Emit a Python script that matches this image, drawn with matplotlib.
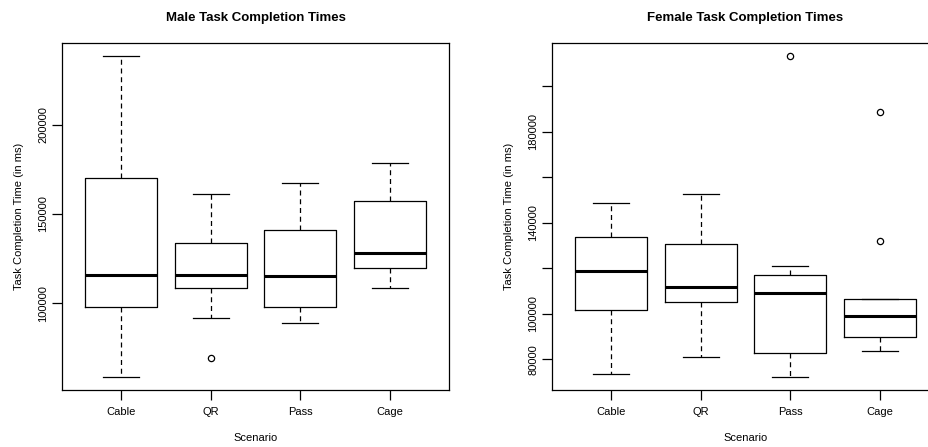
import matplotlib.pyplot as plt

plt.rcParams['font.family'] = ['Liberation Sans', 'DejaVu Sans']

scenarios = ['Cable', 'QR', 'Pass', 'Cage']

# male times (ms)
male_whislo = [58560, 91940, 88800, 108760]
male_q1 = [98100, 108570, 97930, 119600]
male_med = [116000, 115680, 115120, 128000]
male_q3 = [170000, 133940, 140880, 157100]
male_whishi = [238660, 161040, 167370, 178570]
male_fliers = [[], [69200], [], []]
male_yticks = [100000, 150000, 200000]
male_ylabels = ['100000', '150000', '200000']

# female times (ms)
female_whislo = [73540, 80900, 72100, 83800]
female_q1 = [101450, 104970, 82900, 89760]
female_med = [118600, 111700, 109230, 99120]
female_q3 = [133700, 130600, 116840, 106460]
female_whishi = [148900, 152750, 120800, 106460]
female_fliers = [[], [], [213400], [131800, 188500]]
female_yticks = [80000, 100000, 120000, 140000, 160000, 180000, 200000]
female_ylabels = ['80000', '100000', '', '140000', '', '180000', '']


def make_stats(lo, q1, med, q3, hi, fl):
    return [dict(label=s, whislo=a, q1=b, med=c, q3=d, whishi=e, fliers=f)
            for s, a, b, c, d, e, f in zip(scenarios, lo, q1, med, q3, hi, fl)]


def draw(ax, stats, title, yticks, ylabels):
    ax.bxp(stats, positions=[1, 2, 3, 4], widths=0.8, capwidths=0.4,
           boxprops=dict(color='black', linewidth=0.9),
           whiskerprops=dict(color='black', linewidth=0.9, linestyle=(0, (4, 3))),
           capprops=dict(color='black', linewidth=0.9),
           medianprops=dict(color='black', linewidth=2.2, solid_capstyle='butt'),
           flierprops=dict(marker='o', markerfacecolor='none', markeredgecolor='black',
                           markersize=4.5, markeredgewidth=0.9))
    lo = min(min(s['whislo'], *(s['fliers'] or [s['whislo']])) for s in stats)
    hi = max(max(s['whishi'], *(s['fliers'] or [s['whishi']])) for s in stats)
    pad = (hi - lo) * 0.04
    ax.set_ylim(lo - pad, hi + pad)
    ax.set_xlim(0.34, 4.66)
    ax.set_yticks(yticks)
    ax.set_yticklabels(ylabels, rotation=90, va='center', fontsize=8)
    ax.set_xticks([1, 2, 3, 4])
    ax.set_xticklabels(scenarios, fontsize=8)
    ax.tick_params(direction='out', length=7, width=0.9, pad=3, colors='black')
    ax.tick_params(axis='x', pad=5)
    for sp in ax.spines.values():
        sp.set_linewidth(0.9)
    ax.set_title(title, fontsize=9.5, fontweight='bold', pad=16)
    ax.set_xlabel('Scenario', fontsize=8, labelpad=12)
    ax.set_ylabel('Task Completion Time (in ms)', fontsize=8, labelpad=10)


fig = plt.figure(figsize=(9.29, 4.47), dpi=100)
ax1 = fig.add_axes([62 / 929, 1 - 390 / 447, 387 / 929, 347 / 447])
ax2 = fig.add_axes([552 / 929, 1 - 390 / 447, 387 / 929, 347 / 447])

draw(ax1, make_stats(male_whislo, male_q1, male_med, male_q3, male_whishi, male_fliers),
     'Male Task Completion Times', male_yticks, male_ylabels)
draw(ax2, make_stats(female_whislo, female_q1, female_med, female_q3, female_whishi, female_fliers),
     'Female Task Completion Times', female_yticks, female_ylabels)

fig.savefig('out.png', dpi=100)
